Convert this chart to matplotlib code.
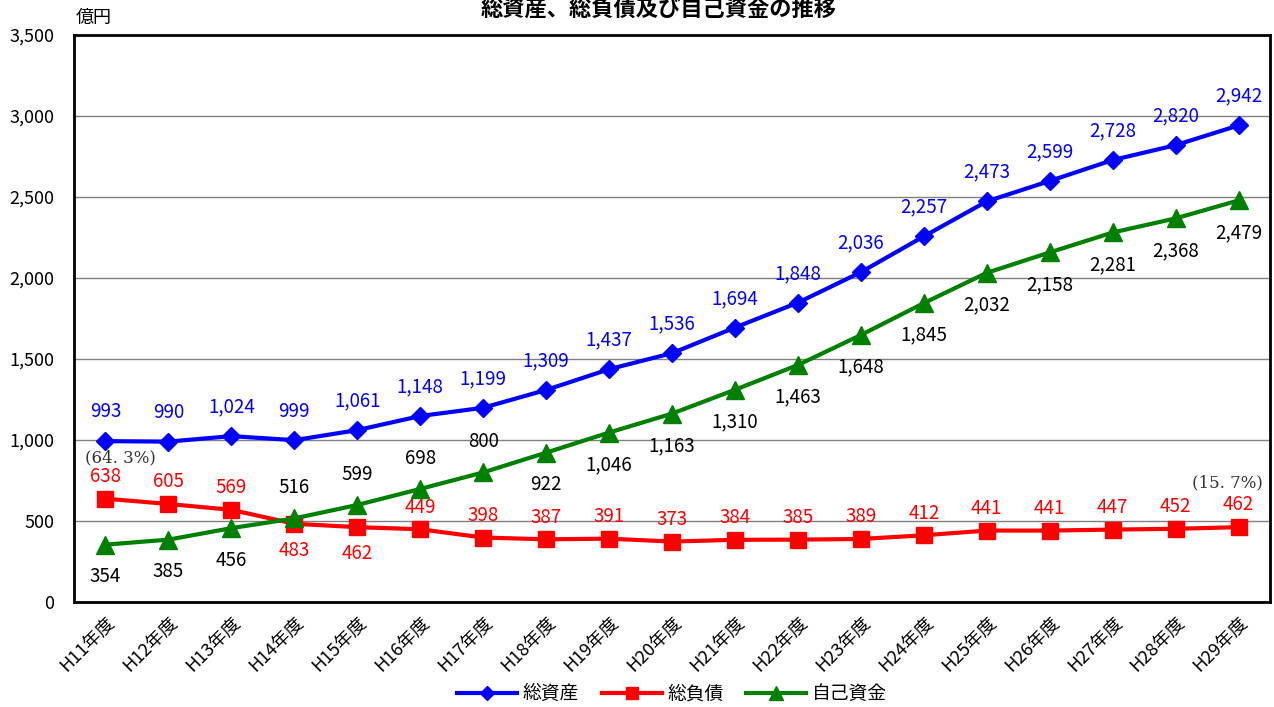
import matplotlib
matplotlib.use("Agg")
import matplotlib.pyplot as plt
from matplotlib.ticker import FuncFormatter, MultipleLocator

plt.rcParams['font.family'] = ['Noto Sans CJK JP', 'DejaVu Sans']

categories = ["H11年度", "H12年度", "H13年度", "H14年度", "H15年度", "H16年度", "H17年度",
              "H18年度", "H19年度", "H20年度", "H21年度", "H22年度", "H23年度", "H24年度",
              "H25年度", "H26年度", "H27年度", "H28年度", "H29年度"]
total_assets = [993, 990, 1024, 999, 1061, 1148, 1199, 1309, 1437, 1536, 1694, 1848,
                2036, 2257, 2473, 2599, 2728, 2820, 2942]
total_liabilities = [638, 605, 569, 483, 462, 449, 398, 387, 391, 373, 384, 385,
                     389, 412, 441, 441, 447, 452, 462]
own_capital = [354, 385, 456, 516, 599, 698, 800, 922, 1046, 1163, 1310, 1463,
               1648, 1845, 2032, 2158, 2281, 2368, 2479]
series_names = ["総資産", "総負債", "自己資金"]
ratio_labels = ["(64. 3%)", "(15. 7%)"]

# label placement: True = above the point
liab_above = [True, True, True, False, False] + [True] * 14
own_above = [False, False, False, True, True, True, True] + [False] * 12

fig = plt.figure(figsize=(12.74, 7.07), dpi=100)
ax = fig.add_axes([0.0581, 0.1485, 0.9388, 0.802])

x = list(range(len(categories)))
ax.plot(x, total_assets, color="#0000FF", lw=3, marker="D", ms=9, label=series_names[0], zorder=4)
ax.plot(x, total_liabilities, color="#FF0000", lw=3, marker="s", ms=12, label=series_names[1], zorder=3)
ax.plot(x, own_capital, color="#008000", lw=3, marker="^", ms=13, label=series_names[2], zorder=4)

fs = 13.5
for i, v in enumerate(total_assets):
    ax.annotate(f"{v:,}", (i, v), xytext=(0, 21), textcoords="offset points",
                ha="center", va="center", color="#0000FF", fontsize=fs)
for i, v in enumerate(total_liabilities):
    dy = 16 if liab_above[i] else -19
    ax.annotate(f"{v:,}", (i, v), xytext=(0, dy), textcoords="offset points",
                ha="center", va="center", color="#FF0000", fontsize=fs)
for i, v in enumerate(own_capital):
    dy = 22 if own_above[i] else -23
    ax.annotate(f"{v:,}", (i, v), xytext=(0, dy), textcoords="offset points",
                ha="center", va="center", color="black", fontsize=fs)

ax.annotate(ratio_labels[0], (0, total_liabilities[0]), xytext=(11, 29), textcoords="offset points",
            ha="center", va="center", color="#333333", fontsize=12, family="DejaVu Serif")
ax.annotate(ratio_labels[1], (18, total_liabilities[18]), xytext=(-8, 32), textcoords="offset points",
            ha="center", va="center", color="#333333", fontsize=12, family="DejaVu Serif")

ax.set_xlim(-0.5, len(categories) - 0.5)
ax.set_ylim(0, 3500)
ax.yaxis.set_major_locator(MultipleLocator(500))
ax.yaxis.set_major_formatter(FuncFormatter(lambda v, p: f"{int(v):,}"))
ax.grid(axis="y", color="#808080", lw=1)
ax.set_axisbelow(True)
ax.set_xticks(x)
ax.set_xticklabels(categories, rotation=45, ha="right", rotation_mode="anchor", fontsize=13)
ax.tick_params(axis="x", length=0, pad=8)
ax.tick_params(axis="y", length=0, labelsize=13, pad=14)
for s in ax.spines.values():
    s.set_color("black")
    s.set_linewidth(2)

fig.text(0.059, 0.975, "億円", fontsize=13, ha="left", va="center")
fig.text(0.517, 0.986, "総資産、総負債及び自己資金の推移", fontsize=16, fontweight="bold",
         ha="center", va="center")

ax.legend(loc="center", bbox_to_anchor=(0.5, -0.162), ncol=3, frameon=False,
          fontsize=13.5, handlelength=3.2, columnspacing=1.2, handletextpad=0.3,
          markerscale=0.75)

fig.savefig("out.png", dpi=100)
